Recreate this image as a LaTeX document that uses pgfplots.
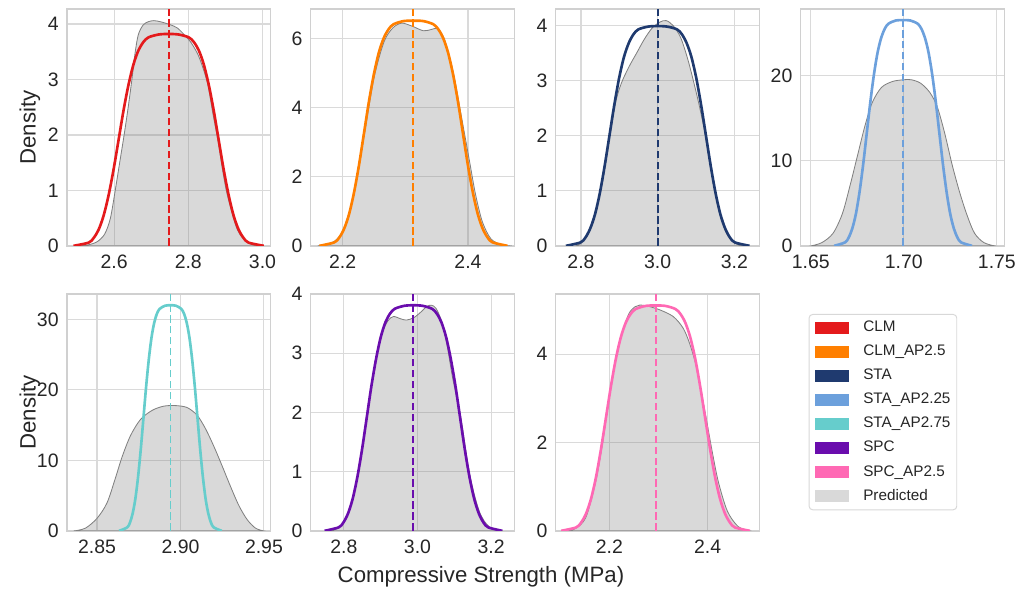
\documentclass[border=0pt]{standalone}
\usepackage{fontspec}
\setmainfont{Liberation Sans}
\usepackage{pgfplots}
\pgfplotsset{compat=1.18}

\definecolor{cCLM}{HTML}{E41A1C}
\definecolor{cCLMAP}{HTML}{FF7F00}
\definecolor{cSTA}{HTML}{1F3A6F}
\definecolor{cSTAAPa}{HTML}{6CA0DC}
\definecolor{cSTAAPb}{HTML}{66CDCC}
\definecolor{cSPC}{HTML}{6A0DAD}
\definecolor{cSPCAP}{HTML}{FF69B4}
\definecolor{gridc}{HTML}{DADADA}
\definecolor{spinec}{HTML}{D0D0D0}
\definecolor{tickc}{HTML}{262626}
\definecolor{legc}{HTML}{D8D8D8}

\pgfplotsset{
  kdeax/.style={
    scale only axis, width=146.6pt, height=170.64pt,
    anchor=south west, ymin=0,
    axis line style={draw=spinec, line width=0.9pt},
    grid=major, major grid style={draw=gridc, line width=0.8pt},
    major tick length=0pt, tick style={draw=none},
    scaled ticks=false,
    /pgf/number format/assume math mode=true,
    tick label style={font=\fontsize{14}{16}\selectfont, text=tickc},
    xticklabel style={yshift=-3pt, /pgf/number format/fixed,
      /pgf/number format/fixed zerofill, /pgf/number format/precision=1},
    yticklabel style={xshift=-2.5pt, /pgf/number format/fixed},
    label style={font=\fontsize{16}{19}\selectfont, text=tickc},
    ylabel style={at={(axis description cs:-0.182,0.5)}, anchor=center},
  },
  twodp/.style={xticklabel style={/pgf/number format/precision=2}},
  predicted/.style={fill=gray, fill opacity=0.3, draw=gray, line width=0.6pt, smooth},
  kde/.style={line width=1.9pt, smooth},
  mean/.style={line width=1.4pt, dash pattern=on 5.5pt off 2.4pt},
}

\begin{document}
\begin{tikzpicture}
\path[use as bounding box] (0,0) rectangle (735.12pt,424.8pt);

% ---------------- CLM ----------------
\begin{axis}[kdeax, at={(48.24pt,247.68pt)},
  xmin=2.473, xmax=3.022, ymax=4.27,
  xtick={2.6,2.8,3.0}, ytick={0,1,2,3,4}, ylabel={Density}]
\addplot[predicted] coordinates {
(2.500,0) (2.530,0.02) (2.555,0.08) (2.575,0.22) (2.590,0.50) (2.603,1.0)
(2.615,1.5) (2.627,2.0) (2.638,2.5) (2.648,3.0) (2.656,3.45) (2.665,3.8)
(2.678,3.98) (2.692,4.04) (2.707,4.06) (2.725,4.04) (2.750,3.99) (2.770,3.93)
(2.790,3.80) (2.808,3.66) (2.826,3.45) (2.840,3.2) (2.853,2.9) (2.866,2.4)
(2.880,1.9) (2.893,1.35) (2.906,0.9) (2.932,0.3) (2.960,0.06) (2.995,0)
} \closedcycle;
\addplot[kde, cCLM] coordinates {
(2.4905,0.003) (2.531,0.06) (2.5445,0.141) (2.558,0.29) (2.5715,0.542) (2.585,0.91)
(2.5985,1.375) (2.612,1.91) (2.6255,2.445) (2.639,2.91) (2.6525,3.278) (2.666,3.53)
(2.6795,3.679) (2.693,3.76) (2.720,3.81) (2.747,3.82) (2.774,3.81) (2.801,3.76)
(2.8145,3.679) (2.828,3.53) (2.8415,3.278) (2.855,2.91) (2.8685,2.445) (2.882,1.91)
(2.8955,1.375) (2.909,0.91) (2.9225,0.542) (2.936,0.29) (2.9495,0.141) (2.963,0.06)
(3.0035,0.003)
};
\addplot[mean, cCLM] coordinates {(2.747,0) (2.747,4.27)};
\end{axis}

% ---------------- CLM_AP2.5 ----------------
\begin{axis}[kdeax, at={(223.70pt,247.68pt)},
  xmin=2.149, xmax=2.474, ymax=6.85,
  xtick={2.2,2.4}, ytick={0,2,4,6}]
\addplot[predicted] coordinates {
(2.160,0) (2.175,0.05) (2.188,0.15) (2.202,0.5) (2.218,1.5) (2.234,3.15)
(2.250,4.85) (2.266,5.9) (2.280,6.3) (2.294,6.44) (2.310,6.36) (2.329,6.22)
(2.342,6.26) (2.352,6.28) (2.362,6.0) (2.370,5.5) (2.378,4.9) (2.386,4.1)
(2.394,3.3) (2.403,2.4) (2.412,1.5) (2.423,0.7) (2.437,0.2) (2.455,0.03) (2.470,0)
} \closedcycle;
\addplot[kde, cCLMAP] coordinates {
(2.1629,0.005) (2.1866,0.104) (2.1945,0.241) (2.2024,0.50) (2.2103,0.924) (2.2182,1.55)
(2.2261,2.34) (2.234,3.255) (2.2419,4.17) (2.2498,4.96) (2.2577,5.586) (2.2656,6.01)
(2.2735,6.269) (2.2814,6.41) (2.2972,6.50) (2.313,6.51) (2.3288,6.50) (2.3446,6.41)
(2.3525,6.269) (2.3604,6.01) (2.3683,5.586) (2.3762,4.96) (2.3841,4.17) (2.392,3.255)
(2.3999,2.34) (2.4078,1.55) (2.4157,0.924) (2.4236,0.50) (2.4315,0.241) (2.4394,0.104)
(2.4631,0.005)
};
\addplot[mean, cCLMAP] coordinates {(2.313,0) (2.313,6.85)};
\end{axis}

% ---------------- STA ----------------
\begin{axis}[kdeax, at={(400.10pt,247.68pt)},
  xmin=2.734, xmax=3.265, ymax=4.30,
  xtick={2.8,3.0,3.2}, ytick={0,1,2,3,4}]
\addplot[predicted] coordinates {
(2.785,0) (2.800,0.05) (2.820,0.25) (2.850,0.95) (2.874,1.95) (2.890,2.6)
(2.905,2.95) (2.925,3.25) (2.945,3.5) (2.965,3.75) (2.985,3.95) (3.005,4.06)
(3.022,4.09) (3.040,4.0) (3.060,3.78) (3.080,3.35) (3.100,2.8) (3.113,2.4)
(3.126,1.95) (3.150,0.95) (3.175,0.3) (3.200,0.06) (3.225,0)
} \closedcycle;
\addplot[kde, cSTA] coordinates {
(2.7606,0.003) (2.7984,0.064) (2.811,0.148) (2.8236,0.31) (2.8362,0.567) (2.8488,0.95)
(2.8614,1.44) (2.874,1.995) (2.8866,2.55) (2.8992,3.04) (2.9118,3.423) (2.9244,3.68)
(2.937,3.842) (2.9496,3.93) (2.9748,3.98) (3.000,3.99) (3.0252,3.98) (3.0504,3.93)
(3.063,3.842) (3.0756,3.68) (3.0882,3.423) (3.1008,3.04) (3.1134,2.55) (3.126,1.995)
(3.1386,1.44) (3.1512,0.95) (3.1638,0.567) (3.1764,0.31) (3.189,0.148) (3.2016,0.064)
(3.2394,0.003)
};
\addplot[mean, cSTA] coordinates {(3.000,0) (3.000,4.30)};
\end{axis}

% ---------------- STA_AP2.25 ----------------
\begin{axis}[kdeax, twodp, at={(576.50pt,247.68pt)},
  xmin=1.6446, xmax=1.754, ymax=27.8,
  xtick={1.65,1.70,1.75}, ytick={0,10,20}]
\addplot[predicted] coordinates {
(1.650,0) (1.656,0.4) (1.662,1.5) (1.667,3.8) (1.671,7.0) (1.675,10.5)
(1.679,14.0) (1.683,16.8) (1.688,18.6) (1.694,19.3) (1.700,19.5) (1.704,19.5)
(1.709,19.1) (1.714,18.0) (1.718,16.3) (1.722,13.2) (1.726,9.5) (1.730,6.3)
(1.734,3.6) (1.738,1.5) (1.743,0.4) (1.749,0)
} \closedcycle;
\addplot[kde, cSTAAPa] coordinates {
(1.66255,0.02) (1.6684,0.42) (1.67035,0.98) (1.6723,2.04) (1.67425,3.76) (1.6762,6.31)
(1.67815,9.54) (1.6801,13.25) (1.68205,16.96) (1.6840,20.19) (1.68595,22.74) (1.6879,24.46)
(1.68985,25.52) (1.6918,26.08) (1.6957,26.45) (1.6996,26.5) (1.7035,26.45) (1.7074,26.08)
(1.70935,25.52) (1.7113,24.46) (1.71325,22.74) (1.7152,20.19) (1.71715,16.96) (1.7191,13.25)
(1.72105,9.54) (1.7230,6.31) (1.72495,3.76) (1.7269,2.04) (1.72885,0.98) (1.7308,0.42)
(1.73665,0.02)
};
\addplot[mean, cSTAAPa] coordinates {(1.6996,0) (1.6996,27.8)};
\end{axis}

% ---------------- STA_AP2.75 ----------------
\begin{axis}[kdeax, twodp, at={(48.24pt,42.48pt)},
  xmin=2.832, xmax=2.954, ymax=33.6,
  xtick={2.85,2.90,2.95}, ytick={0,10,20,30}, ylabel={Density}]
\addplot[predicted] coordinates {
(2.836,0) (2.843,0.4) (2.850,1.8) (2.856,4.0) (2.861,7.5) (2.865,10.5)
(2.870,13.5) (2.876,15.8) (2.883,17.1) (2.890,17.7) (2.897,17.78) (2.904,17.5)
(2.910,16.4) (2.915,14.5) (2.920,12.0) (2.925,9.2) (2.930,6.3) (2.935,3.6)
(2.940,1.6) (2.945,0.4) (2.950,0)
} \closedcycle;
\addplot[kde, cSTAAPb] coordinates {
(2.86322,0.02) (2.86808,0.51) (2.8697,1.18) (2.87132,2.46) (2.87294,4.54) (2.87456,7.62)
(2.87618,11.52) (2.8778,16.0) (2.87942,20.48) (2.88104,24.38) (2.88266,27.46) (2.88428,29.54)
(2.8859,30.82) (2.88752,31.49) (2.89076,31.94) (2.894,32.0) (2.89724,31.94) (2.90048,31.49)
(2.9021,30.82) (2.90372,29.54) (2.90534,27.46) (2.90696,24.38) (2.90858,20.48) (2.9102,16.0)
(2.91182,11.52) (2.91344,7.62) (2.91506,4.54) (2.91668,2.46) (2.9183,1.18) (2.91992,0.51)
(2.92478,0.02)
};
\addplot[mean, cSTAAPb] coordinates {(2.894,0) (2.894,33.6)};
\end{axis}

% ---------------- SPC ----------------
\begin{axis}[kdeax, at={(223.70pt,42.48pt)},
  xmin=2.710, xmax=3.263, ymax=4.0,
  xtick={2.8,3.0,3.2}, ytick={0,1,2,3,4}]
\addplot[predicted] coordinates {
(2.760,0) (2.790,0.07) (2.812,0.3) (2.837,0.9) (2.862,1.9) (2.885,2.85)
(2.905,3.35) (2.920,3.55) (2.935,3.62) (2.955,3.58) (2.970,3.56) (2.990,3.60)
(3.010,3.70) (3.025,3.79) (3.038,3.81) (3.050,3.76) (3.065,3.55) (3.080,3.15)
(3.095,2.6) (3.118,1.9) (3.142,0.95) (3.168,0.33) (3.195,0.07) (3.232,0)
} \closedcycle;
\addplot[kde, cSPC] coordinates {
(2.7477,0.003) (2.7858,0.061) (2.7985,0.141) (2.8112,0.293) (2.8239,0.541) (2.8366,0.907)
(2.8493,1.37) (2.862,1.905) (2.8747,2.44) (2.8874,2.90) (2.9001,3.269) (2.9128,3.52)
(2.9255,3.669) (2.9382,3.75) (2.9636,3.80) (2.989,3.81) (3.0144,3.80) (3.0398,3.75)
(3.0525,3.669) (3.0652,3.52) (3.0779,3.269) (3.0906,2.90) (3.1033,2.44) (3.116,1.905)
(3.1287,1.37) (3.1414,0.907) (3.1541,0.541) (3.1668,0.293) (3.1795,0.141) (3.1922,0.061)
(3.2303,0.003)
};
\addplot[mean, cSPC] coordinates {(2.989,0) (2.989,4.0)};
\end{axis}

% ---------------- SPC_AP2.5 ----------------
\begin{axis}[kdeax, at={(400.10pt,42.48pt)},
  xmin=2.091, xmax=2.505, ymax=5.36,
  xtick={2.2,2.4}, ytick={0,2,4}]
\addplot[predicted] coordinates {
(2.112,0) (2.130,0.05) (2.152,0.3) (2.172,1.1) (2.185,1.9) (2.197,2.8)
(2.208,3.6) (2.218,4.1) (2.228,4.55) (2.240,4.92) (2.252,5.07) (2.262,5.11)
(2.280,5.08) (2.303,5.0) (2.330,4.85) (2.350,4.59) (2.363,4.25) (2.375,3.8)
(2.386,3.2) (2.397,2.55) (2.410,1.75) (2.422,1.1) (2.440,0.45) (2.462,0.1) (2.486,0)
} \closedcycle;
\addplot[kde, cSPCAP] coordinates {
(2.1021,0.004) (2.1324,0.08) (2.1425,0.189) (2.1526,0.39) (2.1627,0.724) (2.1728,1.21)
(2.1829,1.84) (2.193,2.55) (2.2031,3.26) (2.2132,3.89) (2.2233,4.376) (2.2334,4.71)
(2.2435,4.911) (2.2536,5.02) (2.2738,5.09) (2.294,5.10) (2.3142,5.09) (2.3344,5.02)
(2.3445,4.911) (2.3546,4.71) (2.3647,4.376) (2.3748,3.89) (2.3849,3.26) (2.395,2.55)
(2.4051,1.84) (2.4152,1.21) (2.4253,0.724) (2.4354,0.39) (2.4455,0.189) (2.4556,0.08)
(2.4859,0.004)
};
\addplot[mean, cSPCAP] coordinates {(2.294,0) (2.294,5.36)};
\end{axis}

% ---------------- legend panel ----------------
\begin{axis}[scale only axis, width=146.6pt, height=170.64pt,
  anchor=south west, at={(576.50pt,42.48pt)}, hide axis,
  xmin=0, xmax=1, ymin=0, ymax=1,
  legend cell align=left,
  legend image code/.code={\fill[#1, draw=none, sharp corners] (0pt,-4.3pt) rectangle (24.5pt,4.3pt);},
  legend style={at={(0.039,0.9156)}, anchor=north west,
    draw=legc, rounded corners=2.5pt, line width=0.7pt, fill=white,
    inner sep=4.5pt, font=\fontsize{11}{13}\selectfont, text=tickc,
    row sep=6.8pt, column sep=10pt,
    nodes={inner sep=0pt, text height=8pt, text depth=2.5pt}}]
\addlegendimage{fill=cCLM}\addlegendentry{CLM}
\addlegendimage{fill=cCLMAP}\addlegendentry{CLM\_AP2.5}
\addlegendimage{fill=cSTA}\addlegendentry{STA}
\addlegendimage{fill=cSTAAPa}\addlegendentry{STA\_AP2.25}
\addlegendimage{fill=cSTAAPb}\addlegendentry{STA\_AP2.75}
\addlegendimage{fill=cSPC}\addlegendentry{SPC}
\addlegendimage{fill=cSPCAP}\addlegendentry{SPC\_AP2.5}
\addlegendimage{fill=gray!30}\addlegendentry{Predicted}
\end{axis}

\node[font=\fontsize{16}{19}\selectfont, text=tickc] at (346.3pt,9.4pt) {Compressive Strength (MPa)};
\end{tikzpicture}
\end{document}
